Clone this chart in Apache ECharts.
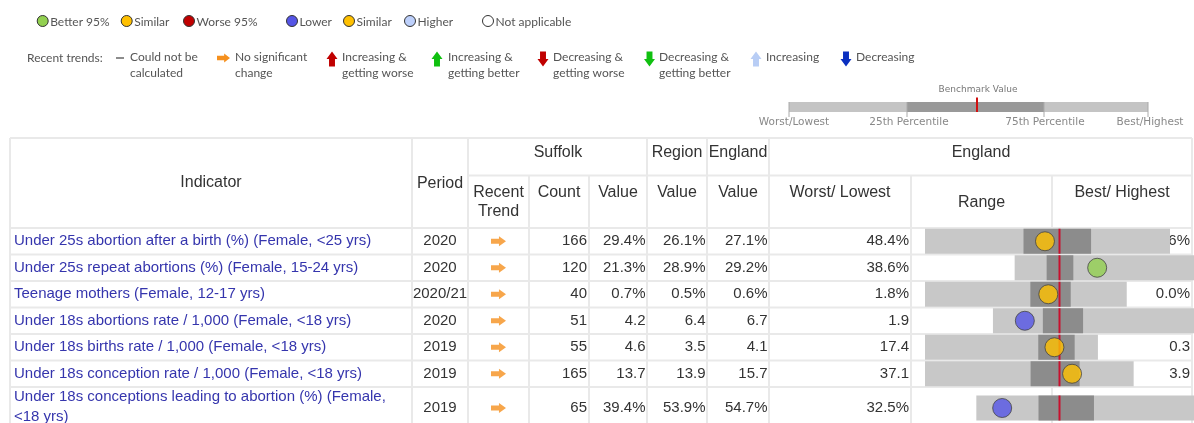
<!DOCTYPE html>
<html><head><meta charset="utf-8">
<script src="https://cdn.jsdelivr.net/npm/echarts@6/dist/echarts.min.js"></script>
<style>html,body{margin:0;padding:0;background:#fff}#c{width:1194px;height:423px}</style>
</head><body><div id="c"></div>
<script>
// ---------------- DATA ----------------
const indicators = [
  'Under 25s abortion after a birth (%) (Female, <25 yrs)',
  'Under 25s repeat abortions (%) (Female, 15-24 yrs)',
  'Teenage mothers (Female, 12-17 yrs)',
  'Under 18s abortions rate / 1,000 (Female, <18 yrs)',
  'Under 18s births rate / 1,000 (Female, <18 yrs)',
  'Under 18s conception rate / 1,000 (Female, <18 yrs)',
  'Under 18s conceptions leading to abortion (%) (Female, <18 yrs)'
];
const periods = ['2020', '2020', '2020/21', '2020', '2019', '2019', '2019'];
const trends = ['No significant change', 'No significant change', 'No significant change', 'No significant change', 'No significant change', 'No significant change', 'No significant change'];
const counts = [166, 120, 40, 51, 55, 165, 65];
const units = ['%', '%', '%', '', '', '', '%'];
const suffolkValues = [29.4, 21.3, 0.7, 4.2, 4.6, 13.7, 39.4];
const regionValues = [26.1, 28.9, 0.5, 6.4, 3.5, 13.9, 53.9];
const englandValues = [27.1, 29.2, 0.6, 6.7, 4.1, 15.7, 54.7];
const worstLowest = [48.4, 38.6, 1.8, 1.9, 17.4, 37.1, 32.5];
const bestHighest = [9.6, 1.0, 0.0, 16.4, 0.3, 3.9, 90.6];
const percentile25 = [32.8, 31.9, 0.86, 5.5, 6.2, 20.3, 49.1];
const percentile75 = [22.1, 26.3, 0.5, 8.4, 2.6, 12.5, 63.9];
const comparisons = ['Similar', 'Better 95%', 'Similar', 'Lower', 'Similar', 'Similar', 'Lower'];

const compLegend = ['Better 95%', 'Similar', 'Worse 95%', 'Lower', 'Similar', 'Higher', 'Not applicable'];
const trendLegend = ['Could not be\ncalculated', 'No significant\nchange', 'Increasing &\ngetting worse', 'Increasing &\ngetting better', 'Decreasing &\ngetting worse', 'Decreasing &\ngetting better', 'Increasing', 'Decreasing'];
const benchLabels = ['Worst/Lowest', '25th Percentile', '75th Percentile', 'Best/Highest'];

// ---------------- STYLE / LAYOUT ----------------
const compColors = {'Better 95%': '#92d050', 'Similar': '#ffc000', 'Worse 95%': '#c00000', 'Lower': '#5555e6', 'Higher': '#bdd0fb', 'Not applicable': '#ffffff'};
const TF = '"Liberation Sans", Arial, sans-serif';
const LF = 'Lato, "Open Sans", sans-serif';
const bodyTop = 228, rowH = 26.5, lastRowH = 42;
function rowCenter(i) { return i < 6 ? bodyTop + rowH * i + rowH / 2 : bodyTop + rowH * 6 + lastRowH / 2; }
const borderColor = '#e9e9e9';

function fmt(v, u) { return v.toFixed(1) + u; }
const bodyCols = [
  {x: 14, align: 'left', color: '#3535ad', get: i => indicators[i], width: 388},
  {x: 440, align: 'center', color: '#333', get: i => periods[i]},
  {x: 587, align: 'right', color: '#333', get: i => String(counts[i])},
  {x: 645.5, align: 'right', color: '#333', get: i => fmt(suffolkValues[i], units[i])},
  {x: 705.5, align: 'right', color: '#333', get: i => fmt(regionValues[i], units[i])},
  {x: 767.5, align: 'right', color: '#333', get: i => fmt(englandValues[i], units[i])},
  {x: 909, align: 'right', color: '#333', get: i => fmt(worstLowest[i], units[i])},
  {x: 1190, align: 'right', color: '#333', get: i => fmt(bestHighest[i], units[i])}
];
const trendX = 498.5;

function norm(i, v) {
  const e = englandValues[i];
  const scale = Math.max(Math.abs(worstLowest[i] - e), Math.abs(bestHighest[i] - e));
  const dir = worstLowest[i] > e ? -1 : 1;
  return dir * (v - e) / scale;
}

// arrows
const rightArrow = 'path://M0,2.6 L8.5,2.6 L8.5,0 L16,5 L8.5,10 L8.5,7.4 L0,7.4 Z';
const trendSymbols = {'No significant change': rightArrow};

function arrowPoly(cx, cy, w, h, dir) {
  const hw = w / 2, sw = w * 0.27, hh = h * 0.5;
  let pts;
  if (dir === 'up') pts = [[cx, cy - h / 2], [cx + hw, cy - h / 2 + hh], [cx + sw, cy - h / 2 + hh], [cx + sw, cy + h / 2], [cx - sw, cy + h / 2], [cx - sw, cy - h / 2 + hh], [cx - hw, cy - h / 2 + hh]];
  else if (dir === 'down') pts = [[cx, cy + h / 2], [cx + hw, cy + h / 2 - hh], [cx + sw, cy + h / 2 - hh], [cx + sw, cy - h / 2], [cx - sw, cy - h / 2], [cx - sw, cy + h / 2 - hh], [cx - hw, cy + h / 2 - hh]];
  else { const W = w, H = h; const sh = H * 0.25, hl = W * 0.45;
    pts = [[cx + W / 2, cy], [cx + W / 2 - hl, cy - H / 2], [cx + W / 2 - hl, cy - sh], [cx - W / 2, cy - sh], [cx - W / 2, cy + sh], [cx + W / 2 - hl, cy + sh], [cx + W / 2 - hl, cy + H / 2]]; }
  return pts;
}

// ---------------- GRAPHIC (layout, headers, legends) ----------------
const g = [];
function line(x1, y1, x2, y2, color, w) { g.push({type: 'line', z: 1, shape: {x1, y1, x2, y2}, style: {stroke: color, lineWidth: w}}); }
function txt(x, y, text, font, fill, align, extra) { g.push({type: 'text', z: 1, x, y, style: Object.assign({text, font, fill, align: align || 'left', verticalAlign: 'middle'}, extra || {})}); }

// table borders
line(10, 138, 1192, 138, borderColor, 2);
line(468, 175.5, 1192, 175.5, borderColor, 2);
line(10, 228, 1192, 228, borderColor, 2);
for (let k = 1; k <= 6; k++) line(10, bodyTop + rowH * k, 1192, bodyTop + rowH * k, borderColor, 2);
[[10, 138], [412, 138], [468, 138], [529, 175.5], [589, 175.5], [647, 138], [707, 138], [769, 138], [911, 175.5], [1052, 175.5], [1192, 138]].forEach(([x, y]) => line(x, y, x, 430, borderColor, 2));

// headers
const HF = '16px ' + TF, HC = '#333';
txt(211, 183, 'Indicator', HF, HC, 'center');
txt(440, 184, 'Period', HF, HC, 'center');
txt(558, 153, 'Suffolk', HF, HC, 'center');
txt(677, 153, 'Region', HF, HC, 'center');
txt(738, 153, 'England', HF, HC, 'center');
txt(981, 153, 'England', HF, HC, 'center');
txt(498.5, 202.5, 'Recent\nTrend', HF, HC, 'center', {lineHeight: 19});
txt(559, 193, 'Count', HF, HC, 'center');
txt(618, 193, 'Value', HF, HC, 'center');
txt(677, 193, 'Value', HF, HC, 'center');
txt(738, 193, 'Value', HF, HC, 'center');
txt(840, 193, 'Worst/ Lowest', HF, HC, 'center');
txt(981.5, 202.5, 'Range', HF, HC, 'center');
txt(1122, 193, 'Best/ Highest', HF, HC, 'center');

// comparison legend
const LFont = '12px ' + LF, LC = '#555';
const compCircleX = [42.7, 126.7, 189, 292, 349, 410, 488];
compLegend.forEach((t, k) => {
  g.push({type: 'circle', z: 1, shape: {cx: compCircleX[k], cy: 21, r: 5.5}, style: {fill: compColors[t], stroke: '#333', lineWidth: 1}});
  txt(compCircleX[k] + 7.5, 22, t, LFont, LC, 'left');
});

// trend legend
txt(27, 58, 'Recent trends:', LFont, LC, 'left');
line(116, 58, 124, 58, '#666', 1.5);
const trendTextX = [130, 235, 342, 448, 553, 659, 766, 856];
const arrowDefs = [null, {cx: 223.5, dir: 'right', c: '#f5901e'}, {cx: 332, dir: 'up', c: '#c00000'}, {cx: 437, dir: 'up', c: '#10c010'}, {cx: 543, dir: 'down', c: '#c00000'}, {cx: 649.5, dir: 'down', c: '#10c010'}, {cx: 756, dir: 'up', c: '#b8cdf5'}, {cx: 846, dir: 'down', c: '#0a2fc0'}];
trendLegend.forEach((t, k) => {
  txt(trendTextX[k], 49, t, LFont, LC, 'left', {lineHeight: 16, verticalAlign: 'top'});
  const a = arrowDefs[k];
  if (a) {
    const pts = a.dir === 'right' ? arrowPoly(a.cx, 58, 13, 9, 'right') : arrowPoly(a.cx, 59, 11, 15, a.dir);
    g.push({type: 'polygon', z: 1, shape: {points: pts}, style: {fill: a.c}});
  }
});

// benchmark legend
g.push({type: 'rect', z: 1, shape: {x: 789, y: 102, width: 359, height: 10}, style: {fill: '#c4c4c4'}});
g.push({type: 'rect', z: 1, shape: {x: 907, y: 102, width: 137, height: 10}, style: {fill: '#999'}});
[789, 907, 1044, 1148].forEach(x => line(x, 102, x, 117, '#aaa', 1));
line(977, 97.5, 977, 112, '#d01010', 2);
txt(978, 90, 'Benchmark Value', '9px "DejaVu Sans", sans-serif', '#777', 'center');
[794, 909, 1045, 1150].forEach((x, k) => txt(x, 122, benchLabels[k], '10.5px "DejaVu Sans", sans-serif', '#888', 'center'));

// ---------------- SERIES ----------------
const cellData = [];
indicators.forEach((_, r) => bodyCols.forEach((_, c) => cellData.push([c, r])));

const spineData = indicators.map((_, i) => [i, norm(i, worstLowest[i]), norm(i, percentile25[i]), norm(i, percentile75[i]), norm(i, bestHighest[i])]);

const option = {
  animation: false,
  backgroundColor: '#fff',
  grid: [
    {left: 0, top: 0, width: 1194, height: 423},
    {left: 925, top: 0, width: 270, height: 423}
  ],
  xAxis: [
    {type: 'value', gridIndex: 0, min: 0, max: 1194, show: false},
    {type: 'value', gridIndex: 1, min: -1, max: 1, show: false}
  ],
  yAxis: [
    {type: 'value', gridIndex: 0, min: 0, max: 423, inverse: true, show: false},
    {type: 'value', gridIndex: 1, min: 0, max: 423, inverse: true, show: false}
  ],
  graphic: {elements: g},
  series: [
    {
      type: 'custom', xAxisIndex: 0, yAxisIndex: 0, z: 2, silent: true,
      data: cellData,
      renderItem: function (params, api) {
        const c = api.value(0), r = api.value(1);
        const col = bodyCols[c];
        const p = api.coord([col.x, r === 6 && c === 0 ? rowCenter(r) - 1 : rowCenter(r)]);
        const style = {text: col.get(r), fill: col.color, font: '15px ' + TF, align: col.align, verticalAlign: 'middle'};
        if (col.width) { style.width = col.width; style.overflow = 'break'; style.lineHeight = 20; }
        return {type: 'text', x: p[0], y: p[1], style};
      }
    },
    {
      type: 'scatter', xAxisIndex: 0, yAxisIndex: 0, z: 3, silent: true,
      symbolSize: [15, 10],
      itemStyle: {color: '#f5901e'},
      data: trends.map((t, i) => ({value: [trendX, rowCenter(i)], symbol: trendSymbols[t]}))
    },
    {
      type: 'custom', xAxisIndex: 1, yAxisIndex: 1, z: 10, silent: true, clip: false,
      data: spineData,
      renderItem: function (params, api) {
        const i = api.value(0);
        const cy = rowCenter(i), bh = 25;
        const a = api.coord([api.value(1), cy]), q1 = api.coord([api.value(2), cy]), q3 = api.coord([api.value(3), cy]), b = api.coord([api.value(4), cy]);
        const c0 = api.coord([0, cy]);
        const l = Math.min(a[0], b[0]), rr = Math.max(a[0], b[0]);
        const dl = Math.min(q1[0], q3[0]), dr = Math.max(q1[0], q3[0]);
        return {type: 'group', children: [
          {type: 'rect', shape: {x: l, y: cy - bh / 2, width: rr - l, height: bh}, style: {fill: '#c8c8c8'}},
          {type: 'rect', shape: {x: dl, y: cy - bh / 2, width: dr - dl, height: bh}, style: {fill: '#8c8c8c'}},
          {type: 'line', shape: {x1: c0[0], y1: cy - bh / 2, x2: c0[0], y2: cy + bh / 2}, style: {stroke: '#c8102e', lineWidth: 2}}
        ]};
      }
    },
    {
      type: 'scatter', xAxisIndex: 1, yAxisIndex: 1, z: 12, silent: true,
      symbol: 'circle', symbolSize: 19,
      data: suffolkValues.map((v, i) => ({value: [norm(i, v), rowCenter(i)], itemStyle: {color: compColors[comparisons[i]], borderColor: '#444', borderWidth: 1}}))
    }
  ]
};
echarts.init(document.getElementById('c')).setOption(option);
</script>
</body></html>
